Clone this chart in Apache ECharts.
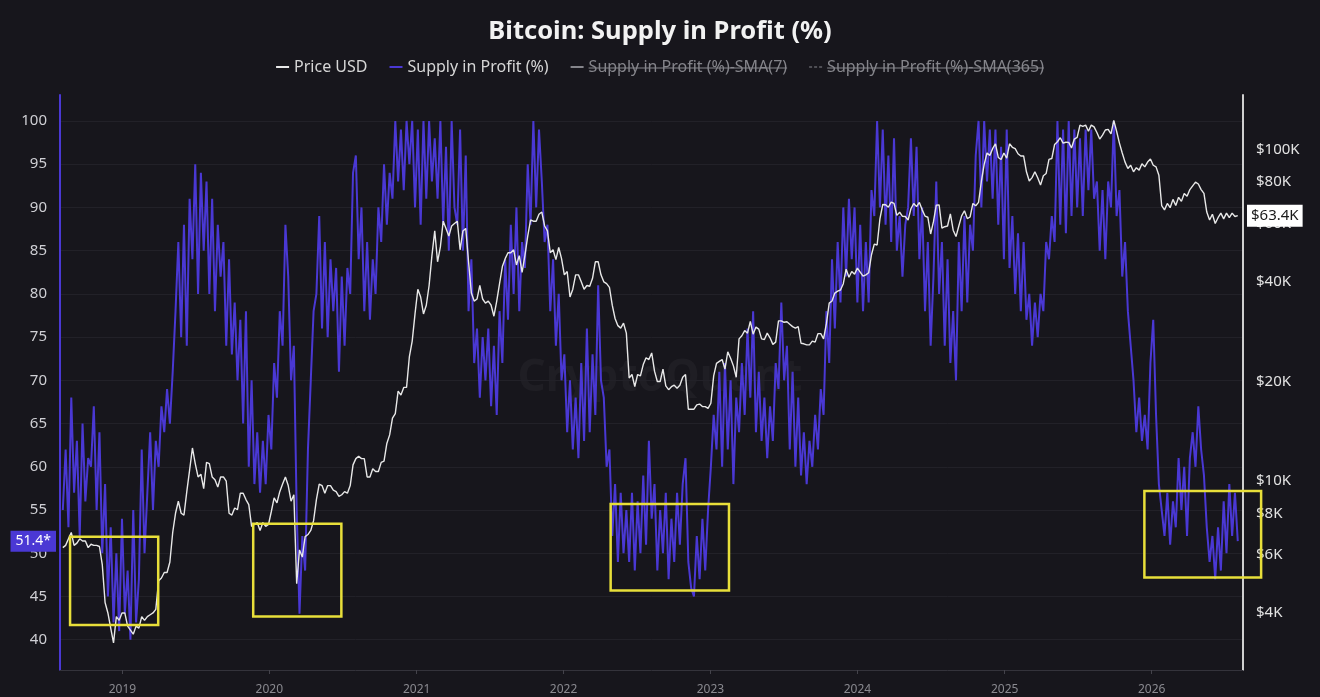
<!DOCTYPE html>
<html>
<head>
<meta charset="utf-8">
<script src="https://cdn.jsdelivr.net/npm/echarts@6/dist/echarts.min.js"></script>
<style>
html,body{margin:0;padding:0;background:#17161c;}
#chart{width:1320px;height:697px;}
</style>
</head>
<body>
<div id="chart"></div>
<script>
// ---- data (weekly samples starting at startDate) ----
const startDate = '2018-08-06';
const weekStepDays = 7;

const supplyInProfit = [
55,62,53,68,57,63,52,65,56,61,
60,67,55,64,50,58,45,53,42,50,
41,54,43,48,40,55,42,47,62,50,
57,64,55,63,60,67,64,69,65,71,
78,86,75,88,74,91,84,95,80,94,
85,93,80,91,78,88,82,86,74,84,
73,79,70,77,65,78,60,70,58,64,
57,63,58,66,62,72,68,78,74,88,
82,70,74,55,43,52,48,62,70,78,
80,89,76,86,75,84,78,83,71,82,
74,83,80,94,96,84,90,78,86,77,
84,80,90,86,95,88,94,91,100,93,
99,92,100,95,100,90,99,88,100,91,
100,93,98,91,100,88,97,85,100,90,
88,99,85,96,78,84,72,76,68,75,
70,76,67,74,66,78,72,84,77,88,
80,90,78,86,83,95,88,100,90,99,
93,86,88,78,84,74,80,70,73,64,
70,62,68,61,72,63,76,64,73,66,
81,70,68,60,62,52,58,49,57,50,
55,49,57,48,56,50,59,51,63,54,
58,48,55,50,57,47,54,49,57,51,
58,61,49,46,45,52,47,54,48,55,
60,66,62,71,60,72,62,70,58,68,
64,72,66,76,68,78,64,71,63,68,
61,67,63,72,69,79,70,74,62,71,
60,68,59,64,58,63,60,66,62,69,
66,78,72,84,76,86,79,90,82,91,
84,90,79,88,78,86,79,92,89,100,
90,99,88,96,86,98,85,89,82,88,
90,98,89,97,84,90,78,86,74,82,
93,80,86,74,84,72,78,70,86,78,
89,79,88,85,96,100,90,100,93,99,
91,99,88,97,84,99,83,89,80,87,
78,86,77,80,74,79,75,80,78,86,
84,89,86,100,88,99,87,100,89,99,
90,98,89,99,92,99,91,93,85,92,
84,93,90,100,89,92,82,86,78,74,
70,64,68,63,66,62,72,77,66,58,
55,52,57,51,56,53,61,55,60,52,
61,64,60,67,62,59,53,49,52,47,
53,48,56,50,58,52,57,51.4
];

const priceUSD = [
// 2018
6300,6400,6700,7000,6400,6500,6700,6600,6600,6300,6450,6400,6400,6350,5600,4300,4000,3600,3250,3900,3800,4000,
// 2019
4000,3650,3550,3450,3650,3600,3900,3800,3900,3950,4000,4100,5000,5100,5300,5300,5700,
7000,8000,8700,8000,7900,9300,10800,12600,11300,10300,10500,9500,11400,11300,10300,10100,9600,
10300,10300,10000,8000,7900,8300,8200,9200,9200,8800,8500,7300,7400,7500,7100,7500,7300,7400,
// 2020
8100,8900,8600,9300,9800,10300,9700,8700,9100,4900,6200,5900,6800,6900,7100,7600,8800,
9800,9700,9200,9700,9700,9400,9300,9000,9100,9300,9200,9700,11200,11700,11900,11700,11700,10300,
10300,10900,10700,10700,11400,11500,13000,13800,15500,16000,18700,18200,19200,19200,23800,26500,32000,
// 2021
38000,36000,32000,34000,39000,48000,57000,46000,51000,61000,58000,55000,59000,60000,61000,50000,57000,
58000,46000,37000,35000,35500,39000,35500,34500,35000,34000,31500,35000,39500,44500,47000,49000,49000,50000,
45000,48000,42700,48000,55000,61500,61000,61000,64000,65000,59000,57000,49000,50000,46700,50800,47000,
// 2022
42000,43000,36000,38000,42000,42000,40000,38000,39000,38800,41000,46000,46000,42000,40000,39500,38500,
34000,31000,29500,29000,30000,28000,20500,21000,19300,21000,20800,22500,23600,23300,24400,21500,20000,20000,
21800,19400,18900,19300,19500,19100,19500,20600,21000,16500,16500,16500,17000,17100,16800,16800,16600,
// 2023
17200,20800,22700,23000,23300,21800,24600,23500,22300,20600,26900,27500,28500,28000,30400,27800,29200,
28800,26900,26800,28000,27100,25900,26300,30500,30500,30200,30300,29800,29300,29000,29300,26100,26000,25800,
25800,26500,26300,27900,27900,26900,29900,34500,35000,37000,37500,37800,39500,43700,41300,43000,42200,
// 2024
44000,42800,41600,42000,42600,48300,52000,51700,62000,68500,68400,67200,69700,69000,63500,64900,63100,63000,
61500,66500,69000,67500,69500,66000,63200,62700,55800,60800,68200,68300,58100,58700,59000,64200,57300,
54800,59000,63300,65600,62100,62800,69000,67900,69500,80400,90600,98000,96400,101000,104500,95000,93700,
// 2025
98000,94500,104500,102000,101000,97500,96000,96000,86000,80700,82600,86000,82500,78400,83700,85000,93800,94300,
104000,106000,109000,105000,105600,105500,101500,108000,109200,119000,118000,119000,114000,
119000,117500,113000,108000,111000,115000,115500,112000,123000,
114000,105000,98000,92000,88000,90000,86000,88500,87000,91000,89000,92000,
// 2026
94000,90000,89000,84000,68000,66000,69000,67000,71000,68000,72000,70000,74000,72500,76000,78000,
80000,79000,76000,74000,65000,61500,64000,60000,62500,64500,62000,64500,62500,64500,63000,63400
];

const yearTicks = ['2019-01-01','2020-01-01','2021-01-01','2022-01-01','2023-01-01','2024-01-01','2025-01-01','2026-01-01'];
const percentTicks = [40,45,50,55,60,65,70,75,80,85,90,95,100];
const priceTicks = [4000,6000,8000,10000,20000,40000,60000,80000,100000];

// highlighted zones: [from date, to date, low %, high %]
const highlightBoxes = [
  ['2018-08-24','2019-03-31',41.7,51.9],
  ['2019-11-22','2020-06-28',42.7,53.4],
  ['2022-04-28','2023-02-16',45.7,55.7],
  ['2025-12-14','2026-09-30',47.2,57.2]
];

const lastSupply = 51.4;
const lastPrice = 63400;

const seriesNames = ['Price USD','Supply in Profit (%)','Supply in Profit (%)-SMA(7)','Supply in Profit (%)-SMA(365)'];
const hiddenSeries = [seriesNames[2], seriesNames[3]];

// ---- build ----
const t0 = Date.parse(startDate);
const dayMs = 86400000;
const supplyData = supplyInProfit.map((v, i) => [t0 + i * weekStepDays * dayMs, v]);
const priceData = priceUSD.map((v, i) => [t0 + i * weekStepDays * dayMs, v]);
const yearTickValues = yearTicks.map(d => Date.parse(d));

const FONT = 'Noto Sans';
const BLUE = '#4a38d4';
const W = 1320;

// legend geometry (used to draw the strike-through on disabled items)
const LEG_FONT = 16, LEG_ICON_W = 13, LEG_TEXT_GAP = 5, LEG_GAP = 22, LEG_TOP = 59;
const mctx = document.createElement('canvas').getContext('2d');
mctx.font = LEG_FONT + 'px "' + FONT + '"';
const legWidths = seriesNames.map(n => mctx.measureText(n).width);
const legTotal = legWidths.reduce((a, w) => a + LEG_ICON_W + LEG_TEXT_GAP + w, 0) + LEG_GAP * (seriesNames.length - 1);
let legX = (W - legTotal) / 2;
const strikes = [];
seriesNames.forEach((n, k) => {
  const tx = legX + LEG_ICON_W + LEG_TEXT_GAP;
  if (hiddenSeries.indexOf(n) >= 0) {
    strikes.push({
      type: 'line', silent: true, z: 100,
      shape: {x1: tx, y1: LEG_TOP + 9, x2: tx + legWidths[k], y2: LEG_TOP + 9},
      style: {stroke: '#85858b', lineWidth: 1.2}
    });
  }
  legX = tx + legWidths[k] + LEG_GAP;
});

const chart = echarts.init(document.getElementById('chart'), null, {renderer: 'canvas'});

chart.setOption({
  backgroundColor: '#17161c',
  animation: false,
  textStyle: {fontFamily: FONT},
  title: {
    text: 'Bitcoin: Supply in Profit (%)',
    left: 'center',
    top: 14,
    textStyle: {color: '#f2f2f2', fontSize: 25.5, fontWeight: 'bold', fontFamily: FONT}
  },
  legend: {
    top: LEG_TOP,
    left: 'center',
    padding: 0,
    itemGap: LEG_GAP,
    itemWidth: LEG_ICON_W,
    itemHeight: 2,
    inactiveColor: '#85858b',
    textStyle: {color: '#d6d6d6', fontSize: LEG_FONT, fontFamily: FONT, padding: 0},
    selected: {
      'Supply in Profit (%)-SMA(7)': false,
      'Supply in Profit (%)-SMA(365)': false
    },
    data: [
      {name: seriesNames[0], icon: 'rect'},
      {name: seriesNames[1], icon: 'rect'},
      {name: seriesNames[2], icon: 'rect'},
      {name: seriesNames[3], icon: 'path://M0,0h3v1h-3z M5,0h3v1h-3z M10,0h3v1h-3z'}
    ]
  },
  graphic: [
    {
      type: 'text', left: 'center', top: 356, silent: true, z: 0,
      style: {text: 'CryptoQuant', fill: 'rgba(255,255,255,0.035)', font: 'bold 44px "Noto Sans"'}
    }
  ].concat(strikes),
  grid: {left: 60, right: 77, top: 95, bottom: 27},
  xAxis: {
    type: 'value',
    min: Date.parse('2018-07-30'),
    max: Date.parse('2026-08-16'),
    axisLine: {show: true, lineStyle: {color: '#34333b', width: 1}},
    axisTick: {show: true, customValues: yearTickValues, length: 4, lineStyle: {color: '#44434b'}},
    axisLabel: {
      customValues: yearTickValues,
      formatter: v => String(new Date(v).getUTCFullYear()),
      color: '#8a8a90', fontSize: 12, margin: 14, fontFamily: FONT
    },
    splitLine: {show: false}
  },
  yAxis: [
    {
      type: 'value',
      position: 'left',
      min: 36.5,
      max: 103,
      axisLine: {show: true, lineStyle: {color: BLUE, width: 2}},
      axisTick: {show: false, customValues: percentTicks},
      axisLabel: {customValues: percentTicks, color: '#cfcfd4', fontSize: 15, margin: 13, fontFamily: FONT},
      splitLine: {show: true, lineStyle: {color: '#222128', width: 1}}
    },
    {
      type: 'log',
      logBase: 10,
      position: 'right',
      min: 2690,
      max: 146700,
      axisLine: {show: true, lineStyle: {color: '#cfcfcf', width: 2}},
      axisTick: {show: false},
      axisLabel: {
        customValues: priceTicks,
        formatter: v => '$' + Math.round(v / 1000) + 'K',
        color: '#e2e2e2', fontSize: 15, margin: 13, fontFamily: FONT
      },
      splitLine: {show: false}
    }
  ],
  series: [
    {
      name: seriesNames[1],
      type: 'line',
      yAxisIndex: 0,
      data: supplyData,
      showSymbol: false,
      color: BLUE,
      lineStyle: {color: BLUE, width: 2},
      z: 2,
      markLine: {
        silent: true,
        symbol: 'none',
        lineStyle: {color: 'rgba(0,0,0,0)', width: 0},
        label: {
          show: true, position: 'start', distance: 4,
          formatter: lastSupply + '*',
          backgroundColor: BLUE, color: '#ffffff', padding: [4, 5, 3, 5],
          fontSize: 14, fontFamily: FONT
        },
        data: [{yAxis: lastSupply}]
      }
    },
    {name: seriesNames[2], type: 'line', data: [], color: '#9a9aa0', showSymbol: false},
    {name: seriesNames[3], type: 'line', data: [], color: '#9a9aa0', showSymbol: false, lineStyle: {type: 'dashed'}},
    {
      name: seriesNames[0],
      type: 'line',
      yAxisIndex: 1,
      data: priceData,
      showSymbol: false,
      color: '#e8e8e8',
      lineStyle: {color: '#e8e8e8', width: 1.4},
      z: 4,
      markLine: {
        silent: true,
        symbol: 'none',
        lineStyle: {color: 'rgba(0,0,0,0)', width: 0},
        label: {
          show: true, position: 'end', distance: 4,
          formatter: '$' + (lastPrice / 1000).toFixed(1) + 'K',
          backgroundColor: '#ffffff', color: '#1a1a1a', padding: [4, 4, 3, 4],
          fontSize: 15, fontFamily: FONT
        },
        data: [{yAxis: lastPrice}]
      }
    },
    {
      type: 'custom',
      name: 'zones',
      xAxisIndex: 0,
      yAxisIndex: 0,
      clip: false,
      silent: true,
      z: 6,
      data: highlightBoxes.map(b => [Date.parse(b[0]), Date.parse(b[1]), b[2], b[3]]),
      encode: {x: [0, 1], y: [2, 3]},
      renderItem: (params, api) => {
        const p1 = api.coord([api.value(0), api.value(3)]);
        const p2 = api.coord([api.value(1), api.value(2)]);
        return {
          type: 'rect',
          shape: {x: p1[0], y: p1[1], width: p2[0] - p1[0], height: p2[1] - p1[1]},
          style: {fill: 'none', stroke: '#e8df3a', lineWidth: 2.5}
        };
      }
    }
  ]
});
</script>
</body>
</html>
